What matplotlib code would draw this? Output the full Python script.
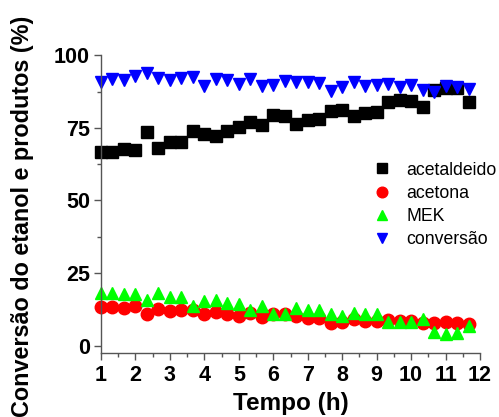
import numpy as np
import matplotlib
matplotlib.use('agg')
from matplotlib import pyplot as plt
from matplotlib.ticker import MultipleLocator

plt.rcParams['font.family'] = ['Liberation Sans', 'DejaVu Sans']

# tempo (h), one sample every 20 min
tempo = [1 + i / 3 for i in range(33)]

acetaldeido = [66.6, 66.6, 67.8, 67.3, 73.7, 68.1, 70.2, 70.0, 74.0, 73.0, 72.1,
               73.8, 75.5, 77.2, 76.1, 79.5, 79.0, 76.4, 77.8, 78.2, 81.0, 81.3,
               79.2, 80.1, 80.6, 84.0, 84.5, 84.4, 82.4, 88.2, 88.7, 88.9, 83.8]
acetona = [13.2, 13.3, 12.9, 13.5, 11.0, 12.6, 11.9, 12.1, 12.4, 10.7, 11.5,
           11.0, 10.1, 11.2, 9.9, 10.7, 11.0, 10.1, 9.5, 9.5, 7.8, 8.0,
           9.2, 8.4, 8.4, 8.7, 8.4, 8.4, 7.8, 7.8, 8.0, 7.8, 7.5]
mek = [18.1, 18.2, 17.9, 17.9, 15.6, 18.0, 16.8, 16.9, 13.8, 15.3, 15.6,
       14.5, 14.2, 12.2, 13.5, 10.7, 10.9, 13.0, 12.4, 12.2, 10.7, 10.3,
       11.2, 11.0, 10.7, 8.0, 8.0, 8.0, 9.2, 4.6, 4.1, 4.3, 6.7]
conversao = [91.0, 91.8, 91.6, 93.0, 93.9, 92.2, 91.6, 92.4, 92.5, 89.5, 91.8,
             91.4, 90.2, 91.8, 89.3, 89.8, 91.3, 91.0, 90.7, 90.5, 87.9, 89.2,
             91.0, 89.5, 89.8, 90.2, 89.2, 89.8, 88.1, 87.5, 89.5, 89.2, 88.4]

fig = plt.figure(figsize=(4.99, 4.17), dpi=100)
ax = fig.add_axes([0.2024, 0.154, 0.7596, 0.713])

ms = 8
ax.plot(tempo, acetaldeido, 's', color='black', ms=ms, label='acetaldeido', clip_on=False)
ax.plot(tempo, acetona, 'o', color='red', ms=ms + 1, label='acetona', clip_on=False)
ax.plot(tempo, mek, '^', color='#00ff00', ms=ms + 1, label='MEK', clip_on=False)
ax.plot(tempo, conversao, 'v', color='blue', ms=ms + 1, label='conversão', clip_on=False)

ax.set_xlim(1, 12)
ax.set_ylim(-2.5, 100)
ax.xaxis.set_major_locator(MultipleLocator(1))
ax.xaxis.set_minor_locator(MultipleLocator(0.5))
ax.yaxis.set_major_locator(MultipleLocator(25))
ax.yaxis.set_minor_locator(MultipleLocator(12.5))

for s in ['top', 'right']:
    ax.spines[s].set_visible(False)
for s in ['left', 'bottom']:
    ax.spines[s].set_color('#555555')
    ax.spines[s].set_linewidth(1.0)

ax.tick_params(which='both', direction='out', color='#555555', width=1.0)
ax.tick_params(which='major', length=5, labelsize=15.5)
ax.tick_params(axis='x', which='major', pad=4)
ax.tick_params(axis='y', which='major', pad=3)
ax.tick_params(which='minor', length=3)
for lb in ax.get_xticklabels() + ax.get_yticklabels():
    lb.set_fontweight('bold')

ax.set_xlabel('Tempo (h)', fontsize=17.5, fontweight='bold', labelpad=4)
ax.set_ylabel('Conversão do etanol e produtos (%)', fontsize=16.8, fontweight='bold')
ax.yaxis.set_label_coords(-0.177, 0.46)

ax.legend(loc='upper left', bbox_to_anchor=(0.694, 0.667), frameon=False,
          fontsize=12.7, handletextpad=0.82, labelspacing=0.35, borderaxespad=0,
          handlelength=1.2, markerscale=0.85)

plt.savefig('out.png', dpi=100)
